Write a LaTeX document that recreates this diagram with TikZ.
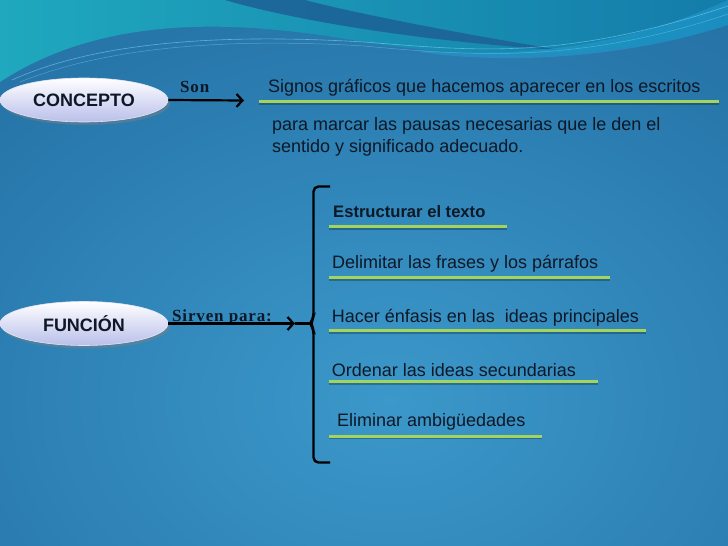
\documentclass[tikz,border=0pt]{standalone}
\usepackage{fontspec}
\setmainfont{Liberation Sans}
\newfontfamily\serifsp[LetterSpace=5]{Liberation Serif}
\usetikzlibrary{shapes.geometric,shadows,arrows.meta}
\definecolor{bgdark}{HTML}{175184}
\definecolor{bgmid}{HTML}{2878AC}
\definecolor{bglight}{HTML}{3C98CA}
\definecolor{tealA}{HTML}{1FA8BE}
\definecolor{tealB}{HTML}{147CAA}
\definecolor{wavedark}{HTML}{1D6096}
\definecolor{linegreen}{HTML}{A2D45E}
\definecolor{textcol}{HTML}{0E1826}
\definecolor{ellcol}{HTML}{B9BFEA}
\pgfdeclareradialshading{bgshade}{\pgfpoint{0bp}{0bp}}{color(0bp)=(bglight); color(20bp)=(bgmid); color(50bp)=(bgdark)}
\tikzset{
  conceptbox/.style={ellipse, minimum width=168pt, minimum height=44pt, inner sep=0pt,
    draw=white!60!ellcol, line width=0.6pt, top color=white, bottom color=ellcol,
    drop shadow={opacity=0.45, shadow xshift=2pt, shadow yshift=-3pt},
    font=\bfseries\fontsize{18}{20}\selectfont, text=textcol},
  txt/.style={anchor=base west, inner sep=0pt, text=textcol, font=\fontsize{18}{21}\selectfont},
  lbl/.style={anchor=base west, inner sep=0pt, text=textcol, font=\serifsp\bfseries\fontsize{17}{20}\selectfont},
  underl/.style={draw=linegreen, line width=3pt,
    preaction={draw=black, opacity=0.25, line width=3pt, transform canvas={yshift=-1.5pt}}},
  arrowc/.style={-{Straight Barb[length=6pt,width=13pt,line width=2.2pt]}, line width=2.2pt, black},
  bracec/.style={line width=2.4pt, black, rounded corners=5pt}
}
\begin{document}
\begin{tikzpicture}[x=1pt,y=-1pt]
\useasboundingbox (0,0) rectangle (728,546);
\begin{scope}
\clip (0,0) rectangle (728,546);
\fill[bgdark] (0,0) rectangle (728,546);
\shade[shading=bgshade] (390,400) ellipse [x radius=620, y radius=470];
% top teal region
\shade[left color=tealA, right color=tealB]
  (0,0) -- (728,0) -- (728,25) .. controls (620,60) and (480,60) .. (364,42)
  .. controls (250,22) and (110,10) .. (0,82) -- cycle;
% dark stripe sweeping down
\fill[wavedark, opacity=0.85]
  (225,0) .. controls (300,22) and (430,42) .. (560,50)
  .. controls (450,32) and (350,12) .. (305,0) -- cycle;
% lighter band on right
\fill[cyan!60!tealA, opacity=0.45]
  (420,50) .. controls (540,60) and (640,40) .. (728,0) -- (728,25)
  .. controls (620,60) and (500,64) .. (420,52) -- cycle;
% thin light lines
\draw[cyan!50!white, opacity=0.6, line width=0.6pt]
  (12,80) .. controls (100,40) and (230,34) .. (364,42)
  .. controls (470,50) and (560,62) .. (728,6);
\draw[cyan!50!white, opacity=0.45, line width=0.5pt]
  (20,82) .. controls (110,46) and (230,38) .. (364,46)
  .. controls (470,56) and (580,64) .. (728,14);
\end{scope}

% concept ellipses
\node[conceptbox] (con) at (84,100) {CONCEPTO};
\node[conceptbox] (fun) at (84,323.5) {FUNCIÓN};

% Son
\node[lbl] (son) at (180,92) {Son};
\coordinate (sontip) at (244,100.5);
\draw[arrowc] (con.east) -- (sontip);

\node[txt] (def1) at (268,92.5) {Signos gráficos que hacemos aparecer en los escritos};
\draw[underl] (259,101.7) -- (719,101.7);
\node[txt] (def2) at (272,130.5) {para marcar las pausas necesarias que le den el};
\node[txt] (def3) at (272,152) {sentido y significado adecuado.};

% Sirven para
\node[lbl] (sirv) at (172,321.5) {Sirven para:};
\coordinate (ftip) at (295,323.5);
\coordinate (bmid) at (311,323.5);
\draw[arrowc] (fun.east) -- (ftip);
\draw[line width=2.2pt, black] (ftip) -- (bmid);

% brace
\draw[bracec] (330,186.5) -- (313.5,186.5) -- (313.5,318) -- (310,323.5) -- (313.5,329) -- (313.5,462.5) -- (330,462.5);

% items
\node[txt, font=\bfseries\fontsize{16.6}{20}\selectfont] (it1) at (333,217.3) {Estructurar el texto};
\draw[underl] (329,226.7) -- (507,226.7);
\node[txt] (it2) at (332,268.3) {Delimitar las frases y los párrafos};
\draw[underl] (329,277.7) -- (610,277.7);
\node[txt] (it3) at (331.7,322.7) {Hacer énfasis en las\ \ ideas principales};
\draw[underl] (329,330.7) -- (645.7,330.7);
\node[txt] (it4) at (331.7,376) {Ordenar las ideas secundarias};
\draw[underl] (329,381.7) -- (598,381.7);
\node[txt] (it5) at (337,426) {Eliminar ambigüedades};
\draw[underl] (329,436) -- (541.7,436);
\end{tikzpicture}
\end{document}
